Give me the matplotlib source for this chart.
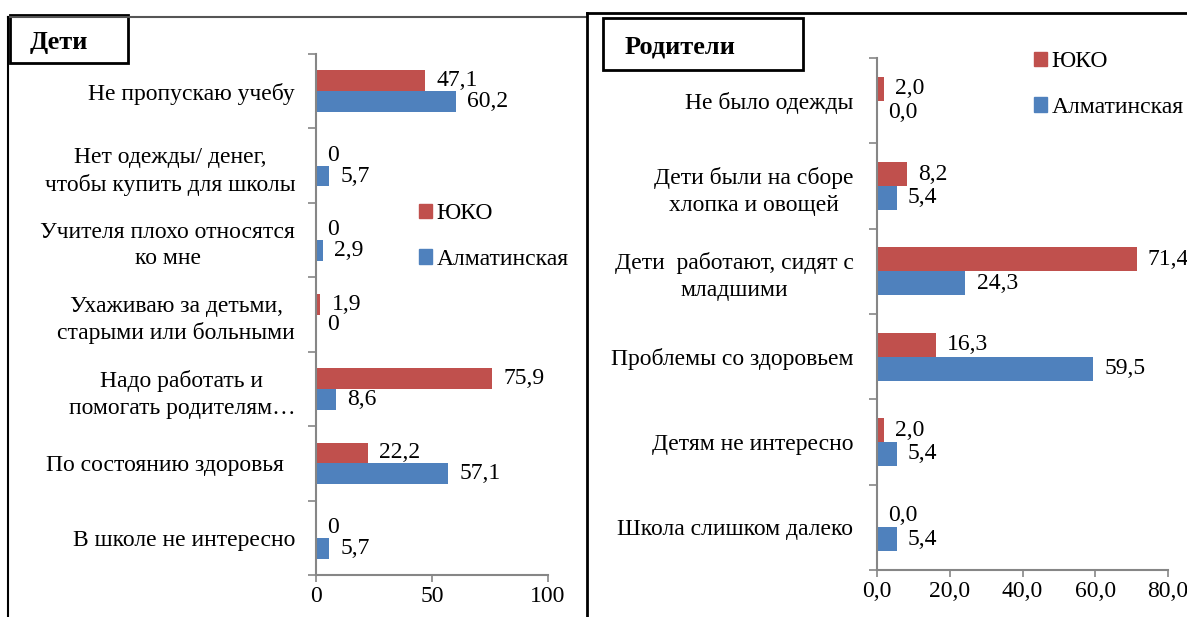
import matplotlib
matplotlib.use("Agg")
import matplotlib.pyplot as plt
from matplotlib.patches import Patch, Rectangle
from matplotlib.lines import Line2D
from matplotlib.ticker import FuncFormatter
import numpy as np

plt.rcParams['font.family'] = ['Liberation Serif', 'DejaVu Serif']

# data
kids_cats = ["Не пропускаю учебу",
             "Нет одежды/ денег,\nчтобы купить для школы",
             "Учителя плохо относятся\nко мне",
             "Ухаживаю за детьми,\nстарыми или больными",
             "Надо работать и\nпомогать родителям…",
             "По состоянию здоровья  ",
             "В школе не интересно"]
kids_yuko = [47.1, 0, 0, 1.9, 75.9, 22.2, 0]
kids_alm = [60.2, 5.7, 2.9, 0, 8.6, 57.1, 5.7]

par_cats = ["Не было одежды",
            "Дети были на сборе\nхлопка и овощей",
            "Дети  работают, сидят с\nмладшими",
            "Проблемы со здоровьем",
            "Детям не интересно",
            "Школа слишком далеко"]
par_yuko = [2.0, 8.2, 71.4, 16.3, 2.0, 0.0]
par_alm = [0.0, 5.4, 24.3, 59.5, 5.4, 5.4]

series_names = ["ЮКО", "Алматинская"]
RED = "#C0504D"
BLUE = "#4F81BD"
GRAY = "#868686"
FS = 17

W, H = 1187, 617
fig = plt.figure(figsize=(W / 100, H / 100), dpi=100)


def px_axes(x0, x1, y0, y1):
    # pixel box (top-left origin) -> figure axes
    return fig.add_axes([x0 / W, 1 - y1 / H, (x1 - x0) / W, (y1 - y0) / H])


def draw_panel(ax, cats, yuko, alm, xmax, xticks, fmt, pad):
    n = len(cats)
    pos = np.arange(n)
    h = 0.28
    ax.barh(pos - h / 2, yuko, height=h, color=RED, label=series_names[0])
    ax.barh(pos + h / 2, alm, height=h, color=BLUE, label=series_names[1])
    for p, v in zip(pos, yuko):
        ax.annotate(fmt(v), (v, p - h / 2), xytext=(8, 0), textcoords="offset points",
                    va="center", ha="left", fontsize=FS)
    for p, v in zip(pos, alm):
        ax.annotate(fmt(v), (v, p + h / 2), xytext=(8, 0), textcoords="offset points",
                    va="center", ha="left", fontsize=FS)
    ax.set_ylim(n - 0.5, -0.5)
    ax.set_xlim(0, xmax)
    ax.set_yticks(np.arange(n + 1) - 0.5)
    ax.set_yticklabels([])
    ax.set_yticks(pos, minor=True)
    ax.set_yticklabels(cats, minor=True, fontsize=FS, multialignment="center",
                       linespacing=1.35)
    ax.tick_params(axis="y", which="minor", length=0, pad=pad)
    ax.tick_params(axis="y", which="major", length=6, color=GRAY, width=1.2)
    ax.set_xticks(xticks)
    ax.xaxis.set_major_formatter(FuncFormatter(lambda v, _: fmt(v)))
    ax.tick_params(axis="x", length=5, color=GRAY, width=1.2, labelsize=FS, pad=3)
    for s in ["top", "right"]:
        ax.spines[s].set_visible(False)
    for s in ["left", "bottom"]:
        ax.spines[s].set_color(GRAY)
        ax.spines[s].set_linewidth(1.5)
    ax.patch.set_alpha(0)


def fmt_kids(v):
    return "0" if v == 0 else ("%g" % round(v, 1)).replace(".", ",")


def fmt_par(v):
    return ("%.1f" % v).replace(".", ",")


ax1 = px_axes(316, 548, 54, 575)
draw_panel(ax1, kids_cats, kids_yuko, kids_alm, 100, [0, 50, 100], fmt_kids, 15)

ax2 = px_axes(877, 1168, 58, 570)
draw_panel(ax2, par_cats, par_yuko, par_alm, 80, [0, 20, 40, 60, 80], fmt_par, 17)

handles = [Patch(color=RED), Patch(color=BLUE)]
for ax, (lx, ly) in [(ax1, (419, 203)), (ax2, (1034, 51))]:
    ax.legend(handles, series_names, loc="upper left",
              bbox_to_anchor=(lx / W, 1 - ly / H), bbox_transform=fig.transFigure,
              frameon=False, fontsize=FS, handlelength=0.55, handleheight=0.55,
              handletextpad=0.2, labelspacing=1.05, borderaxespad=0, borderpad=0)

# panel frames
def fline(xs, ys, lw=1.5, color="black"):
    fig.add_artist(Line2D([x / W for x in xs], [1 - y / H for y in ys],
                          transform=fig.transFigure, color=color, lw=lw))

fline([8, 587], [17, 17], color="#555555")
fline([8, 8], [17, 617])
fline([587, 587], [13, 617], lw=2)
fline([587, 1187], [13, 13], lw=2)

# title boxes
def title_box(x0, y0, x1, y1, text, tx):
    fig.add_artist(Rectangle((x0 / W, 1 - y1 / H), (x1 - x0) / W, (y1 - y0) / H,
                             transform=fig.transFigure, fill=True, facecolor="white",
                             edgecolor="black", lw=2))
    fig.text(tx / W, 1 - ((y0 + y1) / 2 + 3) / H, text, fontsize=19, fontweight="bold",
             va="center", ha="left")

title_box(10, 15, 128, 63, "Дети", 30)
title_box(603, 18, 803, 70, "Родители", 625)

fig.savefig("out.png", dpi=100)
